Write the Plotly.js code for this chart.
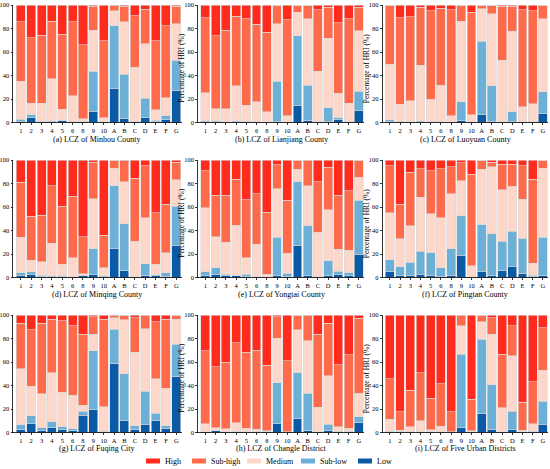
<!DOCTYPE html>
<html>
<head>
<meta charset="utf-8">
<script src="https://cdn.plot.ly/plotly-3.0.1.min.js"></script>
<style>html,body{margin:0;padding:0;background:#fff;}#chart{width:550px;height:469px;}</style>
</head>
<body>
<div id="chart"></div>
<script>
// ---- categories and classes ----
const categories = ['1','2','3','4','5','6','8','9','10','A','B','C','D','E','F','G'];
const classNames = ['Low','Sub-low','Medium','Sub-high','High'];
const classColors = ['#0b5aa6','#6cb0d8','#fdd8ca','#ff6a4a','#ff2b1c'];
const yTicks = [0,20,40,60,80,100];
const yAxisTitle = 'Percentage of HRI (%)';

// ---- (a) Minhou County ----
const minhouLow     = [0.5,4.2,0.5,1.0,1.5,0.3,0.6,9.6,0.3,29.1,3.7,0.5,4.2,1.2,2.5,27.4];
const minhouSubLow  = [2.3,2.3,0.6,0.4,0.3,0.3,0.4,34.2,0.3,53.1,37.5,0.6,16.4,0.8,3.1,25.7];
const minhouMedium  = [32.5,9.9,15.3,35.9,9.5,22.3,2.4,34.7,3.6,12.7,44.4,46.1,46.4,8.7,15.3,30.8];
const minhouSubHigh = [50.3,55.6,57.9,48.9,63.6,62.7,62.7,20.4,65.3,4.6,13.3,43.8,29.6,58.8,61.6,15.0];
const minhouHigh    = [14.4,28.0,25.7,13.8,25.1,14.4,33.9,1.1,30.5,0.5,1.1,9.0,3.4,30.5,17.5,1.1];

// ---- (b) Lianjiang County ----
const lianjiangLow     = [0.5,1.2,0.3,1.0,0.5,0.3,0.2,0.8,0.2,14.1,1.4,0.3,1.1,2.3,0.3,10.5];
const lianjiangSubLow  = [0.9,0.4,0.5,0.3,0.5,0.3,0.2,34.5,0.2,59.9,30.2,0.4,11.6,1.9,0.3,16.3];
const lianjiangMedium  = [24.0,10.3,11.1,29.8,13.7,17.2,8.6,48.6,5.2,19.8,56.8,43.1,58.8,20.7,15.8,51.4];
const lianjiangSubHigh = [63.6,62.1,66.6,59.3,73.4,65.8,67.8,15.8,82.0,5.8,11.3,52.0,26.8,59.8,71.7,20.1];
const lianjiangHigh    = [11.0,26.0,21.5,9.6,11.9,16.4,23.2,0.3,12.4,0.4,0.3,4.2,1.7,15.3,11.9,1.7];

// ---- (c) Luoyuan County ----
const luoyuanLow     = [1.0,0.5,0.3,1.2,0.3,0.3,0.2,1.4,0.2,7.1,1.1,0.3,1.1,0.3,0.3,7.6];
const luoyuanSubLow  = [1.3,0.6,0.5,0.2,0.4,0.3,0.2,16.1,0.3,62.1,30.0,0.3,8.2,0.4,0.3,18.4];
const luoyuanMedium  = [47.1,14.4,17.6,47.5,19.1,31.3,5.2,68.7,6.0,27.7,61.6,52.5,68.4,12.6,15.5,62.4];
const luoyuanSubHigh = [50.3,73.5,71.4,49.1,75.1,65.3,90.4,13.5,87.3,2.8,7.0,45.8,21.2,82.7,78.8,11.3];
const luoyuanHigh    = [0.3,11.0,10.2,2.0,5.1,2.8,4.0,0.3,6.2,0.3,0.3,1.1,1.1,4.0,5.1,0.3];

// ---- (d) Minqing County ----
const minqingLow     = [2.0,2.8,0.5,1.2,1.0,0.3,1.4,2.5,0.8,24.5,5.6,0.3,2.0,1.4,0.8,27.3];
const minqingSubLow  = [2.2,2.3,1.5,0.5,0.3,0.3,0.3,22.0,0.7,53.8,40.0,0.3,9.8,0.9,3.4,33.3];
const minqingMedium  = [30.2,9.5,11.5,27.3,10.0,16.3,1.7,42.5,7.0,14.7,36.1,30.1,38.9,9.0,16.9,22.5];
const minqingSubHigh = [46.7,37.5,39.5,49.3,49.3,52.1,31.2,31.0,27.3,6.7,17.7,53.8,44.2,43.6,41.2,14.9];
const minqingHigh    = [18.9,47.9,47.0,21.7,39.4,31.0,65.4,2.0,64.2,0.3,0.6,15.5,5.1,45.1,37.7,2.0];

// ---- (e) Yongtai County ----
const yongtaiLow     = [1.7,2.8,1.4,1.4,1.0,0.3,0.2,1.7,0.5,27.3,1.4,0.3,1.7,2.8,1.7,19.7];
const yongtaiSubLow  = [3.4,5.4,1.4,0.6,1.8,0.3,0.2,32.4,3.2,54.4,42.8,0.3,12.4,2.6,2.5,45.9];
const yongtaiMedium  = [54.1,26.4,27.3,42.5,14.1,27.6,2.4,41.4,17.1,10.4,34.1,38.0,43.6,18.5,19.2,19.8];
const yongtaiSubHigh = [31.8,35.3,39.8,39.2,49.3,43.1,52.7,20.5,45.1,7.6,21.1,43.1,36.1,46.0,50.4,14.3];
const yongtaiHigh    = [9.0,30.1,30.1,16.3,33.8,28.7,44.5,4.0,34.1,0.3,0.6,18.3,6.2,30.1,26.2,0.3];

// ---- (f) Pingtan County ----
const pingtanLow     = [4.8,1.4,2.0,2.8,2.0,1.1,2.0,18.9,0.2,5.1,1.7,5.6,9.3,3.7,0.5,1.7];
const pingtanSubLow  = [10.1,7.9,11.0,19.5,19.1,7.4,22.5,33.8,0.2,40.0,35.5,25.1,30.1,29.5,1.5,32.7];
const pingtanMedium  = [40.0,23.7,31.2,46.2,33.0,42.2,46.8,29.8,9.5,47.0,57.2,43.9,38.1,33.6,10.1,58.6];
const pingtanSubHigh = [40.3,29.5,45.4,23.9,36.6,41.7,23.1,15.2,78.0,7.6,3.9,21.7,19.1,28.4,71.6,6.7];
const pingtanHigh    = [4.8,37.5,10.4,7.6,9.3,7.6,5.6,2.3,12.1,0.3,1.7,3.7,3.4,4.8,16.3,0.3];

// ---- (g) Fuqing City ----
const fuqingLow     = [2.3,7.6,1.4,4.2,2.8,1.4,14.6,19.2,0.8,58.6,10.4,2.8,7.0,9.9,3.7,47.3];
const fuqingSubLow  = [4.2,6.5,2.8,4.8,2.0,1.7,3.7,50.4,0.3,29.3,39.5,2.8,28.2,6.4,1.9,27.9];
const fuqingMedium  = [47.6,25.3,28.8,41.7,29.6,28.4,5.1,14.1,20.9,9.8,45.9,62.6,53.0,29.6,31.9,21.4];
const fuqingSubHigh = [38.9,47.9,60.0,45.6,60.5,59.2,60.3,14.9,74.3,1.5,3.9,29.5,11.2,48.5,58.8,3.1];
const fuqingHigh    = [7.0,12.7,7.0,3.7,5.1,9.3,16.3,1.4,3.7,0.8,0.3,2.3,0.6,5.6,3.7,0.3];

// ---- (h) Changle District ----
const changleLow     = [0.5,1.4,0.3,0.8,0.3,0.3,0.8,7.6,0.2,12.1,2.0,0.3,1.4,0.8,0.8,8.5];
const changleSubLow  = [0.3,0.3,0.3,0.3,0.3,0.2,0.2,34.7,0.2,38.6,31.2,0.3,5.6,0.3,0.3,5.0];
const changleMedium  = [6.8,2.5,2.8,7.4,3.1,2.3,0.5,38.0,0.4,36.6,45.1,21.1,41.5,3.7,2.6,19.7];
const changleSubHigh = [62.0,51.6,56.3,67.8,64.5,67.1,55.7,18.3,60.3,12.4,20.9,62.0,44.5,52.9,62.5,64.0];
const changleHigh    = [30.4,44.2,40.3,23.7,31.8,30.1,42.8,1.4,38.9,0.3,0.8,16.3,7.0,42.3,33.8,2.8];

// ---- (i) Five Urban Districts ----
const urbanLow     = [0.8,0.8,0.3,0.3,0.3,0.3,0.2,4.2,0.3,16.1,2.8,0.3,2.8,0.3,0.8,7.0];
const urbanSubLow  = [0.3,0.3,0.3,0.3,0.3,0.3,0.2,62.6,0.3,63.3,38.0,0.3,15.5,0.3,0.3,19.8];
const urbanMedium  = [10.2,0.9,4.5,9.3,1.7,4.8,0.2,23.9,0.8,15.0,42.9,20.5,47.1,1.4,6.5,26.2];
const urbanSubHigh = [34.3,15.7,30.7,40.8,27.0,36.3,16.9,8.7,27.1,5.3,13.8,45.7,25.3,23.9,35.5,36.3];
const urbanHigh    = [54.4,82.3,64.2,49.3,70.7,58.3,82.5,0.6,71.5,0.3,2.5,33.2,9.3,74.1,56.9,10.7];

const panelTitles = [
  '(a) LCZ of Minhou County','(b) LCZ of Lianjiang County','(c) LCZ of Luoyuan County',
  '(d) LCZ of Minqing County','(e) LCZ of Yongtai County','(f) LCZ of Pingtan County',
  '(g) LCZ of Fuqing City','(h) LCZ of Changle District','(i) LCZ of Five Urban Districts'
];
const panelSeries = [
  [minhouLow,minhouSubLow,minhouMedium,minhouSubHigh,minhouHigh],
  [lianjiangLow,lianjiangSubLow,lianjiangMedium,lianjiangSubHigh,lianjiangHigh],
  [luoyuanLow,luoyuanSubLow,luoyuanMedium,luoyuanSubHigh,luoyuanHigh],
  [minqingLow,minqingSubLow,minqingMedium,minqingSubHigh,minqingHigh],
  [yongtaiLow,yongtaiSubLow,yongtaiMedium,yongtaiSubHigh,yongtaiHigh],
  [pingtanLow,pingtanSubLow,pingtanMedium,pingtanSubHigh,pingtanHigh],
  [fuqingLow,fuqingSubLow,fuqingMedium,fuqingSubHigh,fuqingHigh],
  [changleLow,changleSubLow,changleMedium,changleSubHigh,changleHigh],
  [urbanLow,urbanSubLow,urbanMedium,urbanSubHigh,urbanHigh]
];

// ---- layout geometry (pixels) ----
const W = 550, H = 469;
const colPx = [[13.3,181.5],[198,364],[382.5,548]];
const rowPx = [[5,122.5],[160,277.5],[315,432.5]];
const titleYPx = [139,294,448.5];
const FONT = 'Liberation Serif, Times New Roman, serif';

const traces = [];
const layout = {
  width: W, height: H,
  margin: {l:0, r:0, t:0, b:0, pad:0},
  paper_bgcolor: '#ffffff', plot_bgcolor: '#ffffff',
  barmode: 'stack', bargap: 0.13,
  showlegend: false,
  font: {family: FONT, color: '#000', size: 7},
  annotations: [], shapes: []
};

for (let p = 0; p < 9; p++) {
  const r = Math.floor(p/3), c = p % 3;
  const xa = p === 0 ? 'x' : 'x' + (p+1);
  const ya = p === 0 ? 'y' : 'y' + (p+1);
  panelSeries[p].forEach((vals, k) => {
    traces.push({
      type: 'bar', x: categories, y: vals, name: classNames[k],
      xaxis: xa, yaxis: ya,
      marker: {color: classColors[k], line: {color: '#d8d8d8', width: 0.6}},
      hovertemplate: '%{x}: %{y}%<extra>' + classNames[k] + '</extra>'
    });
  });
  const axCommon = {
    showline: true, linecolor: '#000', linewidth: 0.8,
    ticks: 'outside', ticklen: 2, tickwidth: 0.8, tickcolor: '#000',
    showgrid: false, zeroline: false,
    tickfont: {family: FONT, size: 6.5, color: '#000'}
  };
  layout['xaxis' + (p === 0 ? '' : p+1)] = Object.assign({}, axCommon, {
    domain: [colPx[c][0]/W, colPx[c][1]/W],
    anchor: ya, type: 'category', range: [-0.72, 15.5], fixedrange: true
  });
  layout['yaxis' + (p === 0 ? '' : p+1)] = Object.assign({}, axCommon, {
    domain: [1 - rowPx[r][1]/H, 1 - rowPx[r][0]/H],
    anchor: xa, range: [0, 100], tickvals: yTicks, fixedrange: true
  });
  // subplot caption
  layout.annotations.push({
    xref: 'paper', yref: 'paper',
    x: (colPx[c][0] + colPx[c][1]) / 2 / W, y: 1 - titleYPx[r]/H,
    xanchor: 'center', yanchor: 'middle', showarrow: false,
    text: panelTitles[p], font: {family: FONT, size: 8, color: '#000'}
  });
  // y-axis title (first column's title lies outside the cropped figure)
  if (c > 0) {
    layout.annotations.push({
      xref: 'paper', yref: 'paper',
      x: (colPx[c][0] - 16) / W, y: 1 - ((rowPx[r][0] + rowPx[r][1]) / 2 + 5) / H,
      xanchor: 'center', yanchor: 'middle', showarrow: false, textangle: -90,
      text: yAxisTitle, font: {family: FONT, size: 7.5, color: '#000'}
    });
  }
}

// ---- legend (drawn manually to match reference spacing) ----
const legendOrder = [4,3,2,1,0];
const legendX = [146,192,247,301,358];
const legendY = 461;
legendOrder.forEach((k, i) => {
  layout.shapes.push({
    type: 'rect', xref: 'paper', yref: 'paper',
    x0: legendX[i]/W, x1: (legendX[i]+14)/W,
    y0: 1 - (legendY+2.5)/H, y1: 1 - (legendY-2.5)/H,
    fillcolor: classColors[k], line: {width: 0}
  });
  layout.annotations.push({
    xref: 'paper', yref: 'paper',
    x: (legendX[i]+17)/W, y: 1 - legendY/H,
    xanchor: 'left', yanchor: 'middle', showarrow: false,
    text: classNames[k], font: {family: FONT, size: 8, color: '#000'}
  });
});

Plotly.newPlot('chart', traces, layout, {displayModeBar: false, staticPlot: true});
</script>
</body>
</html>
